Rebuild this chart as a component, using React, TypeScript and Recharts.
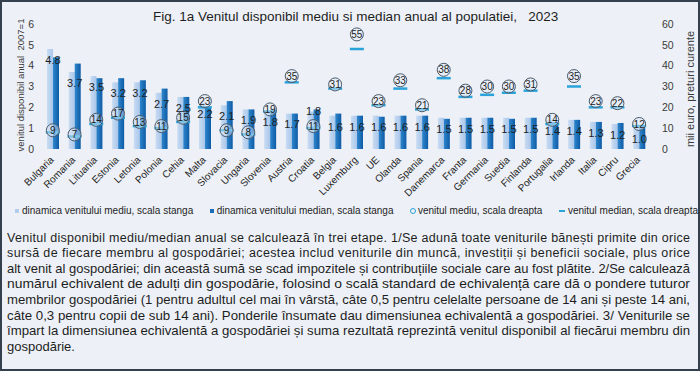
import React from "react";
import { ComposedChart, Bar, Line, XAxis, YAxis, LabelList } from "recharts";

// ─── Data ────────────────────────────────────────────────────────────────────

const countries = [
	"Bulgaria", "Romania", "Lituania", "Estonia", "Letonia", "Polonia", "Cehia",
	"Malta", "Slovacia", "Ungaria", "Slovenia", "Austria", "Croatia", "Belgia",
	"Luxemburg", "UE", "Olanda", "Spania", "Danemarca", "Franta", "Germania",
	"Suedia", "Finlanda", "Portugalia", "Irlanda", "Italia", "Cipru", "Grecia",
];

// dinamica venitului mediu (2007=1), scala stanga
const meanIndex = [
	4.8, 3.7, 3.5, 3.2, 3.2, 2.7, 2.5, 2.2, 2.1, 1.9, 1.8, 1.7, 1.8, 1.6,
	1.6, 1.6, 1.6, 1.6, 1.5, 1.5, 1.5, 1.5, 1.5, 1.4, 1.4, 1.3, 1.2, 1.0,
];

// dinamica venitului median (2007=1), scala stanga
const medianIndex = [
	4.4, 4.1, 3.4, 3.4, 3.3, 2.9, 2.5, 2.0, 2.3, 1.9, 1.9, 1.7, 1.9, 1.7,
	1.6, 1.55, 1.6, 1.6, 1.45, 1.5, 1.5, 1.45, 1.5, 1.3, 1.4, 1.3, 1.25, 1.0,
];

// venitul mediu, mii euro, scala dreapta
const meanIncome = [
	9, 7, 14, 17, 13, 11, 15, 23, 9, 8, 19, 35, 11, 31,
	55, 23, 33, 21, 38, 28, 30, 30, 31, 14, 35, 23, 22, 12,
];

// venitul median, mii euro, scala dreapta
const medianIncome = [
	8, 6, 12, 15, 11, 10, 13, 20, 9, 7, 18, 32, 10, 29,
	48, 21, 29, 19, 34, 25, 26, 27, 28, 12, 30, 20, 20, 11,
];

const leftTicks = [0, 1, 2, 3, 4, 5, 6];
const rightTicks = [0, 10, 20, 30, 40, 50, 60];

const legendItems = [
	"dinamica venitului mediu, scala stanga",
	"dinamica venitului median, scala stanga",
	"venitul mediu, scala dreapta",
	"venitul median, scala dreapta",
];

const titleText = "Fig. 1a Venitul disponibil mediu si median anual al populatiei,   2023";
const leftAxisTitle = "venitul disponibil anual  2007=1";
const rightAxisTitle = "mii euro, preturi curente";

const noteLines = [
	"Venitul disponibil mediu/median anual se calculează în trei etape. 1/Se adună toate veniturile bănești primite din orice",
	"sursă de fiecare membru al gospodăriei; acestea includ veniturile din muncă, investiții și beneficii sociale, plus orice",
	"alt venit al gospodăriei; din această sumă se scad impozitele și contribuțiile sociale care au fost plătite. 2/Se calculează",
	"numărul echivalent de adulți din gospodărie, folosind o scală standard de echivalență care dă o pondere tuturor",
	"membrilor gospodăriei (1 pentru adultul cel mai în vârstă, câte 0,5 pentru celelalte persoane de 14 ani și peste 14 ani,",
	"câte 0,3 pentru copii de sub 14 ani). Ponderile însumate dau dimensiunea echivalentă a gospodăriei. 3/ Veniturile se",
	"împart la dimensiunea echivalentă a gospodăriei și suma rezultată reprezintă venitul disponibil al fiecărui membru din",
	"gospodărie.",
];

const data = countries.map((name, i) => ({
	name,
	meanIndex: meanIndex[i],
	medianIndex: medianIndex[i],
	meanIncome: meanIncome[i],
	medianIncome: medianIncome[i],
}));

// ─── Style ───────────────────────────────────────────────────────────────────

const font = '"Liberation Sans", Arial, sans-serif';
const ink = "#1e1e1e";
const axisInk = "#3a3a3a";
const lightBlue = "#b3cdec";
const darkBlue = "#1a6db7";
const dashBlue = "#2aa2da";
const scaleRatio = rightTicks[rightTicks.length - 1] / leftTicks[leftTicks.length - 1];

const tickStyle = { fontFamily: font, fontSize: 10.5, fill: axisInk };

// ─── Custom marks ────────────────────────────────────────────────────────────

function CountryTick({ x, y, payload }: any) {
	const ax = x - 1;
	const ay = y + 1;
	return (
		<text
			x={ax}
			y={ay}
			dy="0.35em"
			textAnchor="end"
			transform={`rotate(-45 ${ax} ${ay})`}
			fontFamily={font}
			fontSize={10}
			fill={ink}
		>
			{payload.value}
		</text>
	);
}

function MeanDot(props: any) {
	const { cx, cy, payload, index } = props;
	if (cx == null || cy == null) return <g key={`m-${index}`} />;
	return (
		<g key={`m-${index}`}>
			<circle cx={cx} cy={cy} r={6.5} fill="rgba(226,236,248,0.45)" stroke="#4a5a6b" strokeWidth={1} />
			<text
				x={cx}
				y={cy}
				dy="0.36em"
				textAnchor="middle"
				fontFamily={font}
				fontSize={10}
				fill={ink}
			>
				{payload.meanIncome}
			</text>
		</g>
	);
}

function MedianDash(props: any) {
	const { cx, cy, index } = props;
	if (cx == null || cy == null) return <g key={`d-${index}`} />;
	return (
		<line
			key={`d-${index}`}
			x1={cx - 7}
			x2={cx + 7}
			y1={cy}
			y2={cy}
			stroke={dashBlue}
			strokeWidth={2.5}
		/>
	);
}

// value label sits just under the top of the light bar, centred on the category;
// pushed up to the bar top when the income circle would cover it
function renderIndexLabel(props: any) {
	const vb = props.viewBox ?? {};
	const x = props.x ?? vb.x;
	const y = props.y ?? vb.y;
	const width = props.width ?? vb.width;
	const height = props.height ?? vb.height;
	const { value, index } = props;
	if (x == null || value == null) return null;
	const cx = x + width;
	const perUnit = height / value;
	const circleY = y + height - (meanIncome[index] / scaleRatio) * perUnit;
	let ly = y + 11;
	if (Math.abs(ly - circleY) < 7) ly = y;
	return (
		<text
			key={`l-${index}`}
			x={cx}
			y={ly}
			dy="0.35em"
			textAnchor="middle"
			fontFamily={font}
			fontSize={11}
			fill={ink}
		>
			{Number(value).toFixed(1)}
		</text>
	);
}

function LegendRow() {
	const markers = [
		<span style={{ width: 4, height: 4, background: lightBlue, display: "inline-block", marginRight: 3 }} />,
		<span style={{ width: 4, height: 4, background: darkBlue, display: "inline-block", marginRight: 3 }} />,
		<span
			style={{
				width: 4,
				height: 4,
				border: `1px solid ${dashBlue}`,
				borderRadius: "50%",
				display: "inline-block",
				marginRight: 2,
			}}
		/>,
		<span style={{ width: 6, height: 2, background: dashBlue, display: "inline-block", marginRight: 3 }} />,
	];
	return (
		<div
			style={{
				position: "absolute",
				left: 15,
				top: 205,
				width: 683,
				display: "flex",
				justifyContent: "space-between",
				alignItems: "center",
				fontFamily: font,
				fontSize: 10,
				color: ink,
				whiteSpace: "nowrap",
			}}
		>
			{legendItems.map((label, i) => (
				<span key={label} style={{ display: "flex", alignItems: "center" }}>
					{markers[i]}
					{label}
				</span>
			))}
		</div>
	);
}

// ─── App ─────────────────────────────────────────────────────────────────────

export default function App() {
	return (
		<div
			style={{
				position: "absolute",
				left: 0,
				top: 0,
				width: 700,
				height: 371,
				background: "#edf1f7",
				overflow: "hidden",
			}}
		>
			<ComposedChart
				width={700}
				height={230}
				data={data}
				margin={{ top: 24, right: 0, left: 0, bottom: 51 }}
				barGap={0}
				style={{ position: "absolute", left: 0, top: 0 }}
			>
				<defs>
					<linearGradient id="lightBar" x1="0" y1="0" x2="1" y2="0">
						<stop offset="0%" stopColor="#c9dcf2" />
						<stop offset="100%" stopColor="#a9c6ea" />
					</linearGradient>
					<linearGradient id="darkBar" x1="0" y1="0" x2="1" y2="0">
						<stop offset="0%" stopColor="#2f87cd" />
						<stop offset="100%" stopColor="#0e5ba5" />
					</linearGradient>
				</defs>
				<XAxis
					dataKey="name"
					interval={0}
					height={30}
					axisLine={false}
					tickLine={false}
					tick={<CountryTick />}
				/>
				<YAxis
					yAxisId="left"
					domain={[0, 6]}
					ticks={leftTicks}
					width={42}
					axisLine={false}
					tickLine={false}
					tick={tickStyle}
				/>
				<YAxis
					yAxisId="right"
					orientation="right"
					domain={[0, 60]}
					ticks={rightTicks}
					width={50}
					axisLine={false}
					tickLine={false}
					tickMargin={6}
					tick={tickStyle}
				/>
				<Bar yAxisId="left" dataKey="meanIndex" fill="url(#lightBar)" barSize={6} isAnimationActive={false}>
					<LabelList dataKey="meanIndex" content={renderIndexLabel} />
				</Bar>
				<Bar yAxisId="left" dataKey="medianIndex" fill="url(#darkBar)" barSize={6} isAnimationActive={false} />
				<Line
					yAxisId="right"
					dataKey="medianIncome"
					stroke="none"
					dot={MedianDash}
					activeDot={false}
					isAnimationActive={false}
				/>
				<Line
					yAxisId="right"
					dataKey="meanIncome"
					stroke="none"
					dot={MeanDot}
					activeDot={false}
					isAnimationActive={false}
				/>
			</ComposedChart>

			<LegendRow />

			<svg
				width={700}
				height={371}
				style={{ position: "absolute", left: 0, top: 0, pointerEvents: "none" }}
				fontFamily={font}
			>
				<text x={153} y={21} fontSize={13.5} fill={ink} style={{ whiteSpace: "pre" }}>
					{titleText}
				</text>
				<text
					x={21}
					y={85}
					dy="0.35em"
					textAnchor="middle"
					fontSize={9.5}
					fill={axisInk}
					transform="rotate(-90 21 85)"
					style={{ whiteSpace: "pre" }}
				>
					{leftAxisTitle}
				</text>
				<text
					x={690}
					y={89}
					dy="0.35em"
					textAnchor="middle"
					fontSize={11}
					fill={axisInk}
					transform="rotate(-90 690 89)"
				>
					{rightAxisTitle}
				</text>
				{noteLines.map((line, i) => {
					const last = i === noteLines.length - 1;
					const narrow = i >= 2;
					return (
						<text
							key={i}
							x={7}
							y={241.5 + i * 15.6}
							fontSize={narrow ? 13 : 12.5}
							fill={ink}
							textLength={last ? undefined : 683}
							lengthAdjust={narrow ? "spacingAndGlyphs" : "spacing"}
						>
							{line}
						</text>
					);
				})}
			</svg>

			<div
				style={{
					position: "absolute",
					left: 0,
					top: 0,
					width: 700,
					height: 371,
					boxSizing: "border-box",
					border: "2px solid #34404e",
					pointerEvents: "none",
				}}
			/>
		</div>
	);
}
